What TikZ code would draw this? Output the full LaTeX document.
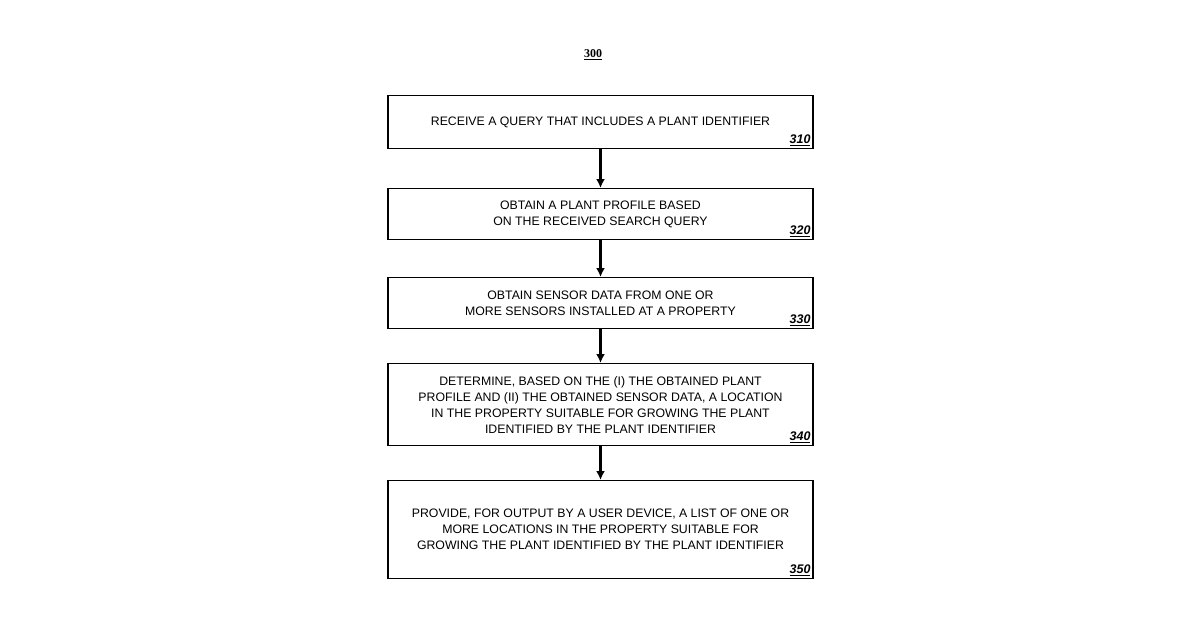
\documentclass[tikz,border=0pt]{standalone}
\usepackage{fontspec}
\setmainfont{Liberation Sans}
\newfontfamily\serifnum{Liberation Serif}
\usetikzlibrary{arrows.meta}
\tikzset{
  stage/.style={draw,line width=1.3pt,minimum width=425pt,align=center,
    font=\fontsize{12.3}{16}\selectfont,anchor=north},
  tag/.style={font=\fontsize{12.5}{14}\selectfont\bfseries\itshape,anchor=south east,inner sep=3pt},
  flow/.style={-{Latex[length=9pt,width=9pt]},line width=2.2pt}
}
\begin{document}
\begin{tikzpicture}[x=1pt,y=-1pt]
\useasboundingbox (0,0) rectangle (1200,630);
\node(title) at (593,55){\serifnum\bfseries\fontsize{12}{14}\selectfont\underline{300}};
\node(s310) at (600.5,95)[stage,minimum height=53pt]{RECEIVE A QUERY THAT INCLUDES A PLANT IDENTIFIER};
\node(s320) at (600.5,188)[stage,minimum height=51pt]{OBTAIN A PLANT PROFILE BASED\\ON THE RECEIVED SEARCH QUERY};
\node(s330) at (600.5,277)[stage,minimum height=51pt]{OBTAIN SENSOR DATA FROM ONE OR\\MORE SENSORS INSTALLED AT A PROPERTY};
\node(s340) at (600.5,363)[stage,minimum height=82pt]{DETERMINE, BASED ON THE (I) THE OBTAINED PLANT\\PROFILE AND (II) THE OBTAINED SENSOR DATA, A LOCATION\\IN THE PROPERTY SUITABLE FOR GROWING THE PLANT\\IDENTIFIED BY THE PLANT IDENTIFIER};
\node(s350) at (600.5,480)[stage,minimum height=98pt]{PROVIDE, FOR OUTPUT BY A USER DEVICE, A LIST OF ONE OR\\MORE LOCATIONS IN THE PROPERTY SUITABLE FOR\\GROWING THE PLANT IDENTIFIED BY THE PLANT IDENTIFIER};
\foreach \n in {310,320,330,340,350}
  \node[tag] at (s\n.south east){\underline{\n}};
\draw[flow] (s310) -- (s320);
\draw[flow] (s320) -- (s330);
\draw[flow] (s330) -- (s340);
\draw[flow] (s340) -- (s350);
\end{tikzpicture}
\end{document}
